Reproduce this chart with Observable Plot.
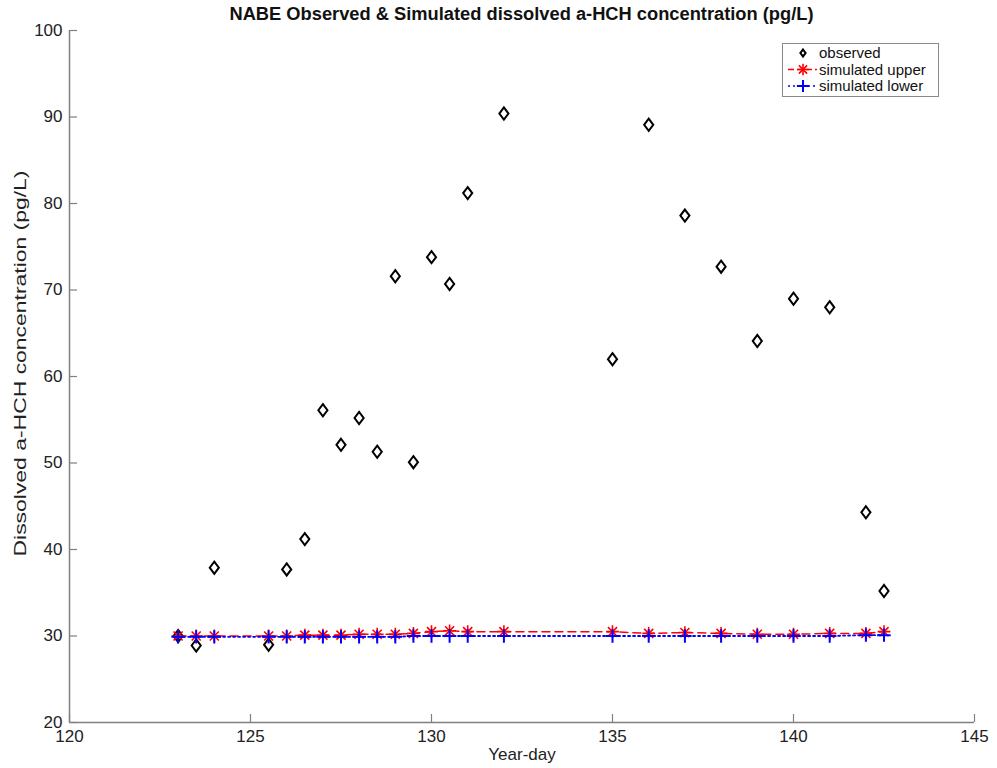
<!DOCTYPE html>
<html><head><meta charset="utf-8">
<script src="https://cdn.jsdelivr.net/npm/d3@7"></script>
<script src="https://cdn.jsdelivr.net/npm/@observablehq/plot@0.6"></script>
<style>
body{margin:0;background:#fff;}
#wrap{position:relative;width:997px;height:768px;font-family:"Liberation Sans",Arial,sans-serif;color:#222;}
#title{position:absolute;top:3px;left:69px;width:905px;text-align:center;font-weight:bold;font-size:18.3px;color:#111;}
#legend{position:absolute;left:782px;top:43px;width:155px;height:52px;border:1px solid #8a8a8a;background:#fff;}
#legend svg{position:absolute;left:0;top:0;}
</style></head>
<body>
<div id="wrap">
<div id="chart"></div>
<div id="title">NABE Observed &amp; Simulated dissolved a-HCH concentration (pg/L)</div>
<div id="legend"></div>
</div>
<script>
const days = [123,123.5,124,125.5,126,126.5,127,127.5,128,128.5,129,129.5,130,130.5,131,132,135,136,137,138,139,140,141,142,142.5];
const observed = [30,28.9,37.9,29,37.7,41.2,56.1,52.1,55.2,51.3,71.6,50.1,73.8,70.7,81.2,90.4,62,89.1,78.6,72.7,64.1,69,68,44.3,35.2];
const simUpper = [30.0,30.0,30.0,30.0,30.0,30.1,30.1,30.1,30.2,30.2,30.2,30.3,30.5,30.6,30.5,30.5,30.5,30.3,30.4,30.3,30.2,30.2,30.3,30.3,30.5];
const simLower = [29.9,29.9,29.9,29.9,29.9,29.9,29.9,29.9,29.9,29.9,29.9,30.0,30.0,30.0,30.0,30.0,30.0,30.0,30.0,30.0,30.0,30.0,30.0,30.1,30.1];
const xTicks = [120,125,130,135,140,145];
const yTicks = [20,30,40,50,60,70,80,90,100];
const seriesNames = ["observed","simulated upper","simulated lower"];

const data = days.map((d,i)=>({day:d, obs:observed[i], up:simUpper[i], lo:simLower[i]}));
const W=997,H=768, mL=69,mR=23,mT=30,mB=46;
const pw=W-mL-mR, ph=H-mT-mB;
const axisColor="#808080";

// MATLAB-like diamond (width/height = 0.75)
const matDiamond = {draw(ctx, size){
  const h = Math.sqrt(size/1.5), w = h*0.75;
  ctx.moveTo(0,-h); ctx.lineTo(w,0); ctx.lineTo(0,h); ctx.lineTo(-w,0); ctx.closePath();
}};

const chart = Plot.plot({
  width:W, height:H, marginLeft:mL, marginRight:mR, marginTop:mT, marginBottom:mB,
  x:{domain:[120,145]}, y:{domain:[20,100]},
  style:{fontFamily:"Liberation Sans, Arial, sans-serif", fontSize:"17px", color:"#222", background:"white"},
  marks:[
    Plot.ruleX([xTicks[0]], {stroke:axisColor, strokeWidth:1.5}),
    Plot.ruleY([yTicks[0]], {stroke:axisColor, strokeWidth:1.5}),
    Plot.tickX(xTicks, {x:d=>d, insetTop:ph-8, stroke:axisColor, strokeWidth:1.2}),
    Plot.tickY(yTicks, {y:d=>d, insetRight:pw-8, stroke:axisColor, strokeWidth:1.2}),
    Plot.axisX({ticks:xTicks, tickSize:0, tickPadding:7, tickFormat:d=>d, label:"Year-day", labelAnchor:"center", labelArrow:"none", labelOffset:37}),
    Plot.axisY({ticks:yTicks, tickSize:0, tickPadding:7, tickFormat:d=>d, label:"Dissolved a-HCH concentration (pg/L)", labelAnchor:"center", labelArrow:"none", labelOffset:56}),
    Plot.dot(data, {x:"day", y:"obs", symbol:matDiamond, r:4.2, fill:"none", stroke:"black", strokeWidth:2}),
    Plot.line(data, {x:"day", y:"up", stroke:"red", strokeWidth:1.5, strokeDasharray:"8,5"}),
    Plot.dot(data, {x:"day", y:"up", symbol:"plus", r:4.2, stroke:"red", strokeWidth:1.6}),
    Plot.dot(data, {x:"day", y:"up", symbol:"times", r:4.2, stroke:"red", strokeWidth:1.6}),
    Plot.line(data, {x:"day", y:"lo", stroke:"blue", strokeWidth:1.8, strokeDasharray:"2,3"}),
    Plot.dot(data, {x:"day", y:"lo", symbol:"plus", r:4.4, stroke:"blue", strokeWidth:2})
  ]
});
document.getElementById("chart").appendChild(chart);
const yl = chart.querySelector('g[aria-label="y-axis label"] text');
if (yl) {
  yl.setAttribute("textLength", 386); yl.setAttribute("lengthAdjust", "spacingAndGlyphs");
  const t = yl.getAttribute("transform") || "";
  yl.setAttribute("transform", t + " translate(13,0)");
}

// legend
const lg = d3.select("#legend").append("svg").attr("width",155).attr("height",52);
const rows = [
  {name:seriesNames[0], color:"black", dash:null, syms:[matDiamond], size:18, sw:2},
  {name:seriesNames[1], color:"red", dash:"6,3", syms:[d3.symbolPlus,d3.symbolTimes], size:45, sw:1.6},
  {name:seriesNames[2], color:"blue", dash:"2,3", syms:[d3.symbolPlus], size:50, sw:2}
];
rows.forEach((r,i)=>{
  const y = 9 + i*16.5;
  if (r.dash) lg.append("line").attr("x1",5).attr("x2",34).attr("y1",y).attr("y2",y)
     .attr("stroke",r.color).attr("stroke-width",1.5).attr("stroke-dasharray",r.dash);
  r.syms.forEach(s=>lg.append("path").attr("d",d3.symbol(s,r.size)()).attr("transform",`translate(20,${y})`)
     .attr("fill","none").attr("stroke",r.color).attr("stroke-width",r.sw));
  lg.append("text").attr("x",36).attr("y",y+5).text(r.name)
     .attr("font-family","Liberation Sans, Arial, sans-serif").attr("font-size",15).attr("fill","#111");
});
</script>
</body></html>
